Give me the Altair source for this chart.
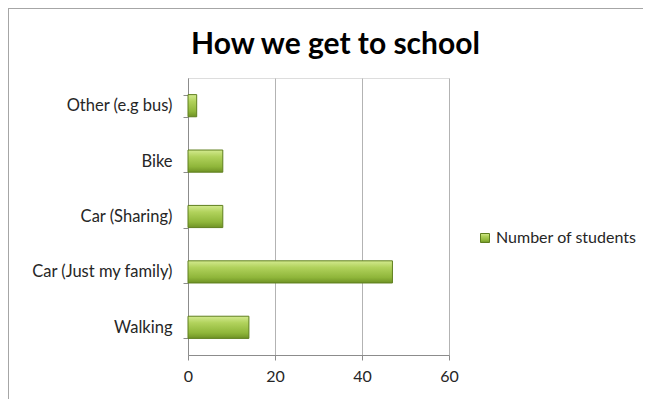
import altair as alt
import pandas as pd

categories = ["Other (e.g bus)", "Bike", "Car (Sharing)", "Car (Just my family)", "Walking"]
values = [2, 8, 8, 47, 14]
series_name = "Number of students"
x_ticks = [0, 20, 40, 60]

df = pd.DataFrame({"category": categories, "value": values, "series": [series_name] * len(categories)})

FONT = "Lato"
W, H = 261, 277
PAD = {"left": 180, "top": 70, "right": 194, "bottom": 44}

grad = alt.Gradient(
    gradient="linear",
    stops=[
        alt.GradientStop(color="#d3ea8f", offset=0),
        alt.GradientStop(color="#b1d25c", offset=0.3),
        alt.GradientStop(color="#8fb63a", offset=0.75),
        alt.GradientStop(color="#6f9225", offset=1),
    ],
    x1=0, x2=0, y1=0, y2=1,
)

bars = alt.Chart(df).mark_bar(fill=grad, strokeWidth=1, fillOpacity=1).encode(
    y=alt.Y(
        "category:N",
        sort=categories,
        title=None,
        scale=alt.Scale(paddingInner=0.6, paddingOuter=0.3),
        axis=alt.Axis(
            labelFont=FONT, labelFontSize=16.5, labelColor="#262626", labelPadding=11,
            tickBand="extent", tickSize=5, tickColor="#8c8c8c", domainColor="#8c8c8c",
            grid=False,
        ),
    ),
    x=alt.X(
        "value:Q",
        title=None,
        scale=alt.Scale(domain=[0, 60]),
        axis=alt.Axis(
            values=x_ticks, labelFont=FONT, labelFontSize=16, labelColor="#262626",
            labelPadding=8, labelFlush=False, tickSize=5, tickColor="#8c8c8c",
            domainColor="#8c8c8c", grid=True, gridColor="#b3b3b3",
        ),
    ),
    stroke=alt.Stroke(
        "series:N",
        scale=alt.Scale(range=["#5f7f1e"]),
        legend=alt.Legend(
            title=None, orient="none", legendX=289, legendY=152,
            symbolType="square", symbolSize=81, symbolFillColor="#8cb43a",
            symbolStrokeColor="#5f7f1e", symbolStrokeWidth=1,
            labelFont=FONT, labelFontSize=16, labelColor="#262626", labelOffset=3,
            labelLimit=300,
        ),
    ),
)

left_border = alt.Chart(df).mark_rule(color="#a6a6a6", strokeWidth=1).encode(
    x=alt.value(-179.5), y=alt.value(-69.5), y2=alt.value(H + 44)
)
top_border = alt.Chart(df).mark_rule(color="#a6a6a6", strokeWidth=1).encode(
    x=alt.value(-179.5), x2=alt.value(W + 194), y=alt.value(-69.5)
)

chart = alt.layer(left_border, top_border, bars).properties(
    width=W, height=H,
    padding=PAD,
    autosize=alt.AutoSizeParams(type="none"),
    title=alt.TitleParams(
        "How we get to school", font=FONT, fontSize=30, fontWeight="bold",
        color="#000000", anchor="middle", offset=-52, dx=17,
    ),
).configure_view(stroke=None).configure(background="white")

chart.save("out.html", embed_options={"renderer": "svg", "actions": False})
